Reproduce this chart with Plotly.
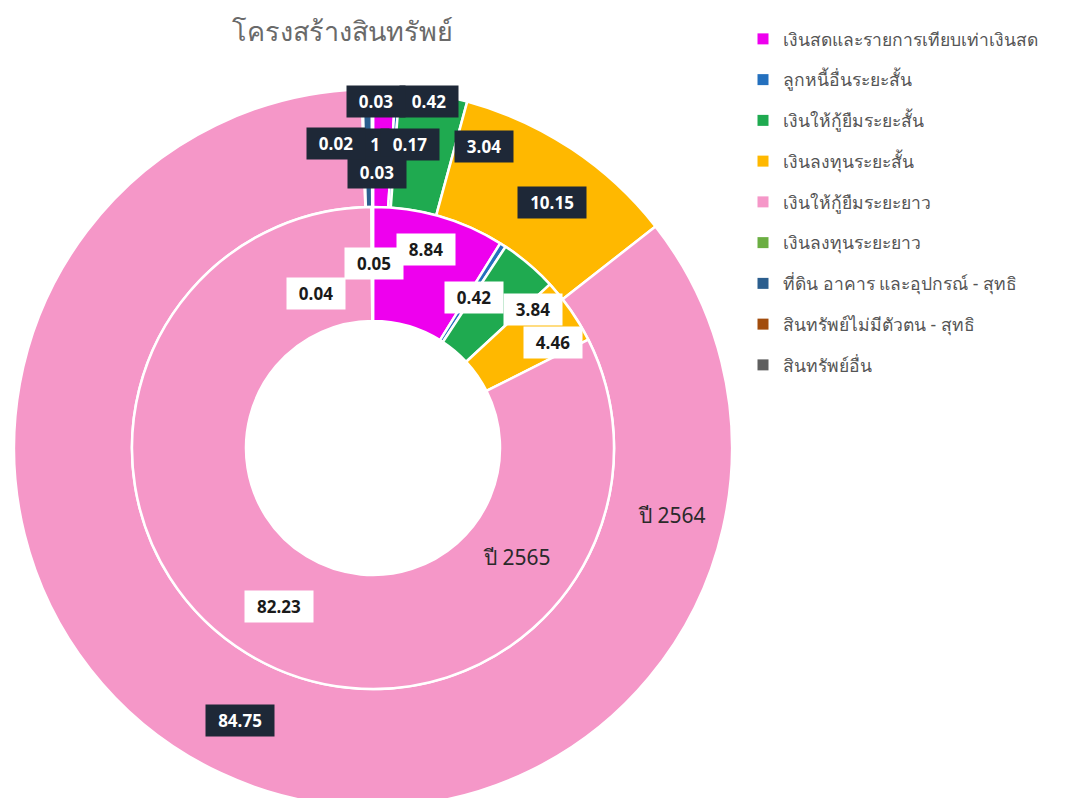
import math
import plotly.graph_objects as go

# ---------------- data ----------------
categories = [
    "เงินสดและรายการเทียบเท่าเงินสด",
    "ลูกหนี้อื่นระยะสั้น",
    "เงินให้กู้ยืมระยะสั้น",
    "เงินลงทุนระยะสั้น",
    "เงินให้กู้ยืมระยะยาว",
    "เงินลงทุนระยะยาว",
    "ที่ดิน อาคาร และอุปกรณ์ - สุทธิ",
    "สินทรัพย์ไม่มีตัวตน - สุทธิ",
    "สินทรัพย์อื่น",
]
values_2564 = [1, 0.17, 3.04, 10.15, 84.75, 0.03, 0.42, 0.02, 0.03]
values_2565 = [8.84, 0.42, 3.84, 4.46, 82.23, 0, 0.05, 0, 0.04]
ring_labels = ["ปี 2564", "ปี 2565"]
title_text = "โครงสร้างสินทรัพย์"

colors = ["#EE00EE", "#2470BE", "#1FAA50", "#FFB800", "#F597C8",
          "#6BAE42", "#2B5E8E", "#A24C0C", "#5F5F5F"]

# ---------------- geometry ----------------
W, H = 1069, 820
CX, CY = 373, 448
R_OUT, R_MID, R_IN = 359, 241, 127


def dom(r):
    return dict(x=[(CX - r) / W, (CX + r) / W],
                y=[1 - (CY + r) / H, 1 - (CY - r) / H])


fig = go.Figure()

fig.add_trace(go.Pie(
    labels=categories, values=values_2564, domain=dom(R_OUT),
    hole=R_MID / R_OUT, sort=False, direction="clockwise", rotation=0,
    textinfo="none", showlegend=False,
    marker=dict(colors=colors, line=dict(color="white", width=2.5)),
))
fig.add_trace(go.Pie(
    labels=categories, values=values_2565, domain=dom(R_MID),
    hole=R_IN / R_MID, sort=False, direction="clockwise", rotation=0,
    textinfo="none", showlegend=False,
    marker=dict(colors=colors, line=dict(color="white", width=2.5)),
))

# legend entries
for name, col in zip(categories, colors):
    fig.add_trace(go.Scatter(
        x=[None], y=[None], mode="markers", name=name, legendgroup=name,
        marker=dict(symbol="square", size=11, color=col),
    ))

# ---------------- data labels ----------------
def mid_points(values, r):
    total = sum(values)
    cum = 0.0
    pts = []
    for v in values:
        a = (cum + v / 2) / total * 2 * math.pi
        cum += v
        pts.append((CX + r * math.sin(a), CY - r * math.cos(a)))
    return pts


# pixel nudges (x right, y up) used to de-overlap labels like the original
outer_shift = [(-7, 4), (16, 4), (60, 6), (13, -5), (-6, -1),
               (13, -24), (61, 47), (-36, 5), (3, 47)]
inner_shift = [(2, 22), (2, -4), (41, -2), (29, 1), (2, -2),
               (0, 0), (2, 1), (0, 0), (-57, -29)]

annotations = []


def add_labels(values, r, shifts, bg, fg):
    for v, (px, py), (sx, sy) in zip(values, mid_points(values, r), shifts):
        if v <= 0:
            continue
        txt = f"{v:g}" if v >= 1 and float(v).is_integer() else f"{v:.2f}"
        annotations.append(dict(
            x=px / W, y=1 - py / H, xref="paper", yref="paper",
            xanchor="center", yanchor="middle", xshift=sx, yshift=sy,
            text=f"<b>{txt}</b>", showarrow=False,
            font=dict(family="Open Sans", size=17, color=fg),
            bgcolor=bg, borderpad=4, width=10 * len(txt) + 10,
        ))


add_labels(values_2564, (R_MID + R_OUT) / 2, outer_shift, "#1E2837", "white")
add_labels(values_2565, (R_IN + R_MID) / 2, inner_shift, "white", "#1a1a1a")

# ring captions and title
annotations.append(dict(x=672 / W, y=1 - 515 / H, xref="paper", yref="paper",
                        xanchor="center", yanchor="middle",
                        text=ring_labels[0], showarrow=False,
                        font=dict(family="Noto Sans", size=21, color="#2a2a2a")))
annotations.append(dict(x=517 / W, y=1 - 557 / H, xref="paper", yref="paper",
                        xanchor="center", yanchor="middle",
                        text=ring_labels[1], showarrow=False,
                        font=dict(family="Noto Sans", size=21, color="#2a2a2a")))
annotations.append(dict(x=342 / W, y=1 - 30 / H, xref="paper", yref="paper",
                        xanchor="center", yanchor="middle",
                        text=title_text, showarrow=False,
                        font=dict(family="Noto Sans", size=27, color="#6a6a6a")))

fig.update_layout(
    width=W, height=H,
    margin=dict(l=0, r=0, t=0, b=0),
    paper_bgcolor="white", plot_bgcolor="white",
    xaxis=dict(visible=False), yaxis=dict(visible=False),
    annotations=annotations,
    legend=dict(x=(783 - 40) / W, xanchor="left", y=1 - 21 / H, yanchor="top",
                tracegroupgap=15, font=dict(family="Noto Sans", size=17.5, color="#555555"),
                bgcolor="rgba(0,0,0,0)"),
)

fig.write_html(
    "out.html",
    config={"displayModeBar": False},
    post_script="document.body.style.margin='0';"
                "document.body.style.overflow='hidden';"
                "document.documentElement.style.overflow='hidden';",
)
